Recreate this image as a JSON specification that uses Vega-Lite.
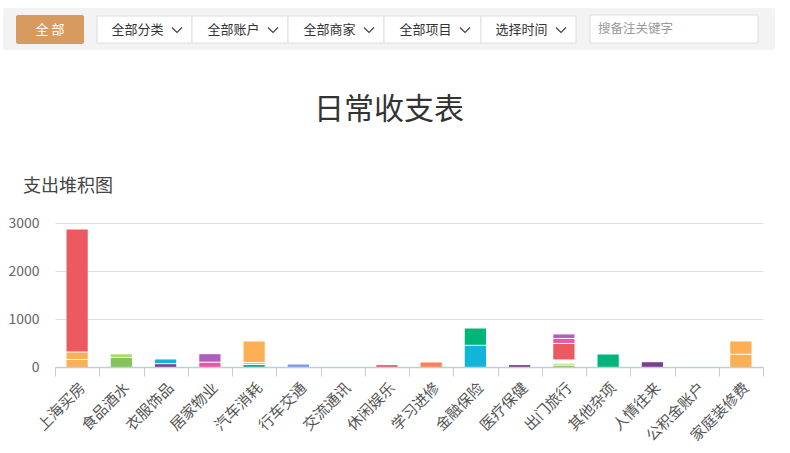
{
  "$schema": "https://vega.github.io/schema/vega-lite/v6.json",
  "padding": {"left": 3, "top": 8, "right": 0, "bottom": 0},
  "background": "white",
  "config": {"font": "Noto Sans CJK SC", "view": {"stroke": null}},
  "spacing": 53,
  "datasets": {
    "toolbar": [
      {"kind": "bg", "x1": 0, "x2": 772, "y1": 0, "y2": 42},
      {"kind": "primary", "x1": 13, "x2": 81, "y1": 7, "y2": 36},
      {"kind": "button", "x1": 94, "x2": 189, "y1": 8, "y2": 35},
      {"kind": "button", "x1": 189, "x2": 285, "y1": 8, "y2": 35},
      {"kind": "button", "x1": 285, "x2": 381, "y1": 8, "y2": 35},
      {"kind": "button", "x1": 381, "x2": 478, "y1": 8, "y2": 35},
      {"kind": "button", "x1": 478, "x2": 573, "y1": 8, "y2": 35},
      {"kind": "search", "x1": 587, "x2": 755, "y1": 7, "y2": 35}
    ],
    "labels": [
      {"kind": "primary", "label": "全 部", "x": 47, "y": 21.5},
      {"kind": "button", "label": "全部分类", "x": 134.5, "y": 21.5},
      {"kind": "button", "label": "全部账户", "x": 230.5, "y": 21.5},
      {"kind": "button", "label": "全部商家", "x": 326.5, "y": 21.5},
      {"kind": "button", "label": "全部项目", "x": 422.5, "y": 21.5},
      {"kind": "button", "label": "选择时间", "x": 518.5, "y": 21.5},
      {"kind": "search", "label": "搜备注关键字", "x": 595, "y": 21}
    ],
    "chevrons": [
      {"x": 174, "y": 22},
      {"x": 270, "y": 22},
      {"x": 366, "y": 22},
      {"x": 462, "y": 22},
      {"x": 558, "y": 22}
    ],
    "spend": [
      {"cat": "上海买房", "sub": "首付款", "seq": 1, "value": 156},
      {"cat": "上海买房", "sub": "契税", "seq": 2, "value": 156},
      {"cat": "上海买房", "sub": "房贷", "seq": 3, "value": 2552},
      {"cat": "食品酒水", "sub": "早午晚餐", "seq": 1, "value": 198},
      {"cat": "食品酒水", "sub": "水果零食", "seq": 2, "value": 67},
      {"cat": "衣服饰品", "sub": "衣服裤子", "seq": 1, "value": 69},
      {"cat": "衣服饰品", "sub": "鞋帽包包", "seq": 2, "value": 88},
      {"cat": "居家物业", "sub": "日常用品", "seq": 1, "value": 100},
      {"cat": "居家物业", "sub": "物业管理", "seq": 2, "value": 167},
      {"cat": "汽车消耗", "sub": "停车费", "seq": 1, "value": 52},
      {"cat": "汽车消耗", "sub": "汽车保养", "seq": 2, "value": 42},
      {"cat": "汽车消耗", "sub": "加油", "seq": 3, "value": 437},
      {"cat": "行车交通", "sub": "公共交通", "seq": 1, "value": 52},
      {"cat": "交流通讯", "sub": "手机费", "seq": 1, "value": 0},
      {"cat": "休闲娱乐", "sub": "休闲玩乐", "seq": 1, "value": 40},
      {"cat": "学习进修", "sub": "书报杂志", "seq": 1, "value": 94},
      {"cat": "金融保险", "sub": "人身保险", "seq": 1, "value": 452},
      {"cat": "金融保险", "sub": "汽车保险", "seq": 2, "value": 350},
      {"cat": "医疗保健", "sub": "药品费", "seq": 1, "value": 40},
      {"cat": "出门旅行", "sub": "交通费", "seq": 1, "value": 38},
      {"cat": "出门旅行", "sub": "住宿费", "seq": 2, "value": 42},
      {"cat": "出门旅行", "sub": "餐饮费", "seq": 3, "value": 67},
      {"cat": "出门旅行", "sub": "门票", "seq": 4, "value": 344},
      {"cat": "出门旅行", "sub": "购物", "seq": 5, "value": 104},
      {"cat": "出门旅行", "sub": "纪念品", "seq": 6, "value": 83},
      {"cat": "其他杂项", "sub": "其他支出", "seq": 1, "value": 260},
      {"cat": "人情往来", "sub": "送礼请客", "seq": 1, "value": 100},
      {"cat": "公积金账户", "sub": "公积金", "seq": 1, "value": 0},
      {"cat": "家庭装修费", "sub": "装修材料", "seq": 1, "value": 265},
      {"cat": "家庭装修费", "sub": "人工费", "seq": 2, "value": 267}
    ]
  },
  "vconcat": [
    {
      "width": 720,
      "height": 42,
      "title": {"text": "日常收支表", "orient": "bottom", "anchor": "middle", "frame": "group", "dx": -26, "fontSize": 30, "fontWeight": "normal", "color": "#333333", "offset": 45},
      "layer": [
        {
          "data": {"name": "toolbar"},
          "transform": [{"filter": "datum.kind == 'bg' || datum.kind == 'primary'"}],
          "mark": {"type": "rect", "cornerRadius": 2, "clip": false},
          "encoding": {
            "x": {"field": "x1", "type": "quantitative", "scale": {"domain": [52, 772], "nice": false, "zero": false}, "axis": null},
            "x2": {"field": "x2"},
            "y": {"field": "y1", "type": "quantitative", "scale": {"domain": [0, 42], "nice": false, "reverse": true}, "axis": null},
            "y2": {"field": "y2"},
            "fill": {"field": "kind", "type": "nominal", "scale": {"domain": ["bg", "primary"], "range": ["#F3F3F3", "#D89B5F"]}, "legend": null}
          }
        },
        {
          "data": {"name": "toolbar"},
          "transform": [{"filter": "datum.kind == 'button' || datum.kind == 'search'"}],
          "mark": {"type": "rect", "fill": "#FFFFFF", "stroke": "#DEDEDE", "strokeWidth": 1, "clip": false},
          "encoding": {
            "x": {"field": "x1", "type": "quantitative"},
            "x2": {"field": "x2"},
            "y": {"field": "y1", "type": "quantitative"},
            "y2": {"field": "y2"}
          }
        },
        {
          "data": {"name": "labels"},
          "transform": [{"filter": "datum.kind == 'primary'"}],
          "mark": {"type": "text", "fontSize": 13, "color": "#FFFFFF", "align": "center", "baseline": "middle", "clip": false},
          "encoding": {
            "x": {"field": "x", "type": "quantitative"},
            "y": {"field": "y", "type": "quantitative"},
            "text": {"field": "label"}
          }
        },
        {
          "data": {"name": "labels"},
          "transform": [{"filter": "datum.kind == 'button'"}],
          "mark": {"type": "text", "fontSize": 13, "color": "#333333", "align": "center", "baseline": "middle"},
          "encoding": {
            "x": {"field": "x", "type": "quantitative"},
            "y": {"field": "y", "type": "quantitative"},
            "text": {"field": "label"}
          }
        },
        {
          "data": {"name": "labels"},
          "transform": [{"filter": "datum.kind == 'search'"}],
          "mark": {"type": "text", "fontSize": 12.5, "color": "#999999", "align": "left", "baseline": "middle"},
          "encoding": {
            "x": {"field": "x", "type": "quantitative"},
            "y": {"field": "y", "type": "quantitative"},
            "text": {"field": "label"}
          }
        },
        {
          "data": {"name": "chevrons"},
          "mark": {"type": "point", "shape": "M-1,-0.5L0,0.5L1,-0.5", "size": 100, "filled": false, "stroke": "#444444", "strokeWidth": 1.2, "opacity": 1},
          "encoding": {
            "x": {"field": "x", "type": "quantitative"},
            "y": {"field": "y", "type": "quantitative"}
          }
        }
      ]
    },
    {
      "width": 708,
      "height": 144,
      "title": {"text": "支出堆积图", "anchor": "start", "frame": "group", "dx": -32, "fontSize": 18, "fontWeight": "normal", "color": "#444444", "offset": 20},
      "data": {"name": "spend"},
      "transform": [
        {"stack": "value", "groupby": ["cat"], "sort": [{"field": "seq"}], "as": ["v0", "v1"]},
        {"joinaggregate": [{"op": "max", "field": "seq", "as": "topseq"}], "groupby": ["cat"]}
      ],
      "encoding": {
        "x": {
          "field": "cat", "type": "nominal", "sort": null,
          "scale": {"domain": ["上海买房", "食品酒水", "衣服饰品", "居家物业", "汽车消耗", "行车交通", "交流通讯", "休闲娱乐", "学习进修", "金融保险", "医疗保健", "出门旅行", "其他杂项", "人情往来", "公积金账户", "家庭装修费"], "paddingInner": 0, "paddingOuter": 0},
          "axis": {"title": null, "labelAngle": -45, "labelFontSize": 15, "labelColor": "#555555", "domainColor": "#BDCEDC", "domainWidth": 1.5, "tickColor": "#BDCEDC", "tickWidth": 1, "tickSize": 9, "tickBand": "extent", "labelPadding": 4, "zindex": 1, "grid": false}
        }
      },
      "layer": [
        {
          "mark": {"type": "bar", "width": {"band": 0.48}},
          "encoding": {
            "y": {
              "field": "v0", "type": "quantitative",
              "scale": {"domain": [0, 3000], "nice": false},
              "axis": {"title": null, "domain": false, "ticks": false, "format": "d", "labelFontSize": 14, "labelColor": "#666666", "labelPadding": 16, "values": [0, 1000, 2000, 3000], "gridColor": "#DDDDDD", "gridWidth": 1}
            },
            "y2": {"field": "v1"},
            "color": {
              "field": "sub", "type": "nominal",
              "scale": {
                "domain": ["首付款", "契税", "房贷", "早午晚餐", "水果零食", "衣服裤子", "鞋帽包包", "日常用品", "物业管理", "停车费", "汽车保养", "加油", "公共交通", "手机费", "休闲玩乐", "书报杂志", "人身保险", "汽车保险", "药品费", "交通费", "住宿费", "餐饮费", "门票", "购物", "纪念品", "其他支出", "送礼请客", "公积金", "装修材料", "人工费"],
                "range": ["#FDAF55", "#FDAF55", "#EC5A5F", "#85C35B", "#A8DC6A", "#7B3F8F", "#12B5DA", "#EE55A1", "#B15DBD", "#00B47A", "#A8DC6A", "#FDAF55", "#7D97EF", "#7D97EF", "#E0606A", "#FF7F50", "#12B5DA", "#00B47A", "#7B3F8F", "#85C35B", "#A8DC6A", "#FFFFFF", "#EC5A5F", "#EE55A1", "#B15DBD", "#00B47A", "#7B3F8F", "#7B3F8F", "#FDAF55", "#FDAF55"]
              },
              "legend": null
            }
          }
        },
        {
          "transform": [{"filter": "datum.seq < datum.topseq && datum.value > 0"}],
          "mark": {"type": "tick", "color": "#FFFFFF", "thickness": 1, "size": 23, "opacity": 1},
          "encoding": {
            "y": {"field": "v1", "type": "quantitative"}
          }
        }
      ]
    }
  ]
}
